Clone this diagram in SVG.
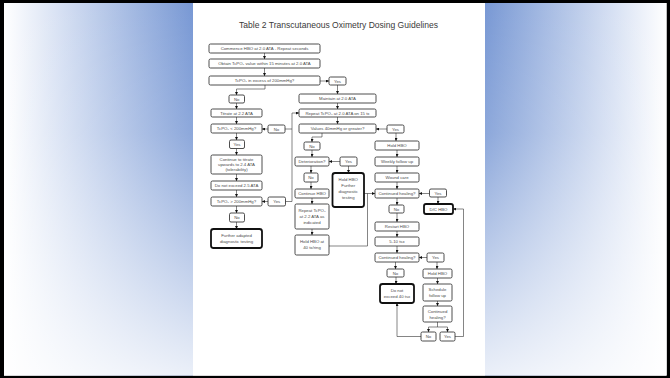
<svg xmlns="http://www.w3.org/2000/svg" width="670" height="378" viewBox="0 0 670 378">
<defs>
<linearGradient id="gl" x1="0" y1="0" x2="1" y2="0"><stop offset="0" stop-color="#ffffff"/><stop offset="0.3" stop-color="#d6e0f3"/><stop offset="1" stop-color="#7898d4"/></linearGradient>
<linearGradient id="gr" x1="0" y1="0" x2="1" y2="0"><stop offset="0" stop-color="#7898d4"/><stop offset="0.7" stop-color="#d6e0f3"/><stop offset="1" stop-color="#ffffff"/></linearGradient>
<linearGradient id="gv" x1="0" y1="0" x2="0" y2="1"><stop offset="0" stop-color="#fff" stop-opacity="0"/><stop offset="0.35" stop-color="#fff" stop-opacity="0.15"/><stop offset="1" stop-color="#fff" stop-opacity="0.85"/></linearGradient>
<marker id="ah" viewBox="0 0 6 6" refX="6" refY="3" markerWidth="3" markerHeight="3" orient="auto" markerUnits="userSpaceOnUse"><path d="M0,0 L6,3 L0,6 z" fill="#111"/></marker>
<style>
.box{fill:#fff;stroke:#222;stroke-width:0.8}
.bold{fill:#fff;stroke:#111;stroke-width:1.8}
.t{font-family:"Liberation Sans",Arial,sans-serif;font-size:4.3px;fill:#4a4a4a;text-anchor:middle}
.title{font-family:"Liberation Sans",Arial,sans-serif;font-size:9px;fill:#3a3a3a;text-anchor:middle}
.c{fill:none;stroke:#333;stroke-width:0.6}
.a{marker-end:url(#ah)}
</style>
</defs>
<rect width="670" height="378" fill="#000"/>
<rect x="4" y="3" width="662.5" height="372.5" fill="#fff"/>
<rect x="4" y="3" width="189" height="372.5" fill="url(#gl)"/>
<rect x="485" y="3" width="181.5" height="372.5" fill="url(#gr)"/>
<rect x="4" y="3" width="662.5" height="372.5" fill="url(#gv)"/>
<rect x="193" y="3" width="292" height="372.5" fill="#fff"/>
<text class="title" x="338.5" y="28" textLength="199" lengthAdjust="spacingAndGlyphs">Table 2 Transcutaneous Oximetry Dosing Guidelines</text>

<g id="connectors">
<path class="c a" d="M264.5 53V59"/>
<path class="c a" d="M264.5 68V76"/>
<path class="c a" d="M320 81H329"/>
<path class="c a" d="M337.5 85V94"/>
<path class="c a" d="M265 85V89H236.5V95"/>
<path class="c a" d="M236.5 103V109"/>
<path class="c a" d="M337.5 103V109"/>
<path class="c a" d="M236.5 117V124"/>
<path class="c a" d="M337.5 117V124"/>
<path class="c a" d="M268 129H262"/>
<path class="c" d="M285 129H292"/>
<path class="c" d="M292 201.5V113"/>
<path class="c a" d="M292 113H299"/>
<path class="c a" d="M387 129H376"/>
<path class="c a" d="M322 133V137H312V142"/>
<path class="c a" d="M396 133V141"/>
<path class="c a" d="M236.5 133V140"/>
<path class="c a" d="M236.5 148.5V155"/>
<path class="c a" d="M312 150V157"/>
<path class="c a" d="M340 161.5H329"/>
<path class="c a" d="M348.5 166V173"/>
<path class="c a" d="M397 150V157"/>
<path class="c a" d="M311 166V173"/>
<path class="c a" d="M397 166V173"/>
<path class="c a" d="M236.5 174V181"/>
<path class="c a" d="M311 182V189"/>
<path class="c a" d="M397 182V189"/>
<path class="c a" d="M364 193.5H375"/>
<path class="c" d="M329 246H367.5V193.5"/>
<path class="c a" d="M429.5 193.5H419"/>
<path class="c a" d="M236.5 190V197"/>
<path class="c a" d="M268 201.5H262"/>
<path class="c" d="M285.5 201.5H292"/>
<path class="c a" d="M312 198V204"/>
<path class="c a" d="M438 197V204"/>
<path class="c a" d="M397 198V205"/>
<path class="c a" d="M236.5 206V213"/>
<path class="c a" d="M397 213V222"/>
<path class="c a" d="M236.5 222V229"/>
<path class="c a" d="M312 229V235"/>
<path class="c a" d="M397 231V237"/>
<path class="c a" d="M397 246V253"/>
<path class="c a" d="M427 257.5H419"/>
<path class="c a" d="M395.5 262V269"/>
<path class="c a" d="M437 262V269"/>
<path class="c a" d="M396 277V284"/>
<path class="c a" d="M437.5 278V284"/>
<path class="c a" d="M437.5 301V306"/>
<path class="c" d="M437.5 322V327H428.5"/>
<path class="c a" d="M428.5 327V332"/>
<path class="c a" d="M437.5 327H447.5V332"/>
<path class="c a" d="M421 336.5H397V303"/>
<path class="c a" d="M455 336.5H463.5V209H453"/>
</g>

<g id="n1"><rect class="box" x="209" y="44" width="111" height="9" rx="1.5"/><text class="t" x="264.5" y="50">Commence HBO at 2.0 ATA - Repeat seconds</text></g>
<g id="n2"><rect class="box" x="209" y="59" width="111" height="9" rx="1.5"/><text class="t" x="264.5" y="65">Obtain TcPO₂ value within 15 minutes at 2.0 ATA</text></g>
<g id="n3"><rect class="box" x="209" y="76" width="111" height="9" rx="1.5"/><text class="t" x="264.5" y="82">TcPO₂ in excess of 200mmHg?</text></g>
<g id="n3y"><rect class="box" x="329" y="77" width="17" height="8" rx="1.5"/><text class="t" x="337.5" y="82.5">Yes</text></g>
<g id="n4"><rect class="box" x="229" y="95" width="15.5" height="8" rx="1.5"/><text class="t" x="236.75" y="100.5">No</text></g>
<g id="n5"><rect class="box" x="299" y="94" width="77" height="9" rx="1.5"/><text class="t" x="337.5" y="100">Maintain at 2.0 ATA</text></g>
<g id="n6"><rect class="box" x="211" y="109" width="51" height="8" rx="1.5"/><text class="t" x="236.5" y="114.5">Titrate at 2.2 ATA</text></g>
<g id="n7"><rect class="box" x="299" y="109" width="77" height="8" rx="1.5"/><text class="t" x="337.5" y="114.5">Repeat TcPO₂ at 2.0 ATA on 15 tx</text></g>
<g id="n8"><rect class="box" x="211" y="124" width="51" height="9" rx="1.5"/><text class="t" x="236.5" y="130">TcPO₂ &lt; 200mmHg?</text></g>
<g id="n8r"><rect class="box" x="268" y="125" width="17" height="8" rx="1.5"/><text class="t" x="276.5" y="130.5">No</text></g>
<g id="n9"><rect class="box" x="299" y="124" width="77" height="9" rx="1.5"/><text class="t" x="337.5" y="130">Values 40mmHg or greater?</text></g>
<g id="n9y"><rect class="box" x="387" y="125" width="17" height="8" rx="1.5"/><text class="t" x="395.5" y="130.5">Yes</text></g>
<g id="n10"><rect class="box" x="229.5" y="140" width="15" height="8.5" rx="1.5"/><text class="t" x="237" y="145.8">Yes</text></g>
<g id="n11"><rect class="box" x="304" y="142" width="16" height="8" rx="1.5"/><text class="t" x="312" y="147.5">No</text></g>
<g id="n12"><rect class="box" x="375" y="141" width="44" height="9" rx="1.5"/><text class="t" x="397" y="147">Hold HBO</text></g>
<g id="n13"><rect class="box" x="211" y="155" width="51" height="19" rx="1.5"/><text class="t" x="236.5" y="161">Continue to titrate</text><text class="t" x="236.5" y="166">upwards to 2.4 ATA</text><text class="t" x="236.5" y="171">(tolerability)</text></g>
<g id="n14"><rect class="box" x="295" y="157" width="34" height="9" rx="1.5"/><text class="t" x="312" y="163">Deterioration?</text></g>
<g id="n14y"><rect class="box" x="340" y="157" width="17" height="9" rx="1.5"/><text class="t" x="348.5" y="163">Yes</text></g>
<g id="n15"><rect class="box" x="375" y="157" width="44" height="9" rx="1.5"/><text class="t" x="397" y="163">Weekly follow up</text></g>
<g id="n16"><rect class="box" x="304" y="173" width="14" height="9" rx="1.5"/><text class="t" x="311" y="179">No</text></g>
<g id="n17"><rect class="bold" x="332.5" y="173" width="31.5" height="34" rx="2.5"/><text class="t" x="348.25" y="181">Hold HBO</text><text class="t" x="348.25" y="187">Further</text><text class="t" x="348.25" y="193">diagnostic</text><text class="t" x="348.25" y="199">testing</text></g>
<g id="n18"><rect class="box" x="375" y="173" width="44" height="9" rx="1.5"/><text class="t" x="397" y="179">Wound care</text></g>
<g id="n19"><rect class="box" x="211" y="181" width="51" height="9" rx="1.5"/><text class="t" x="236.5" y="187">Do not exceed 2.5 ATA</text></g>
<g id="n20"><rect class="box" x="295" y="189" width="34" height="9" rx="1.5"/><text class="t" x="312" y="195">Continue HBO</text></g>
<g id="n21"><rect class="box" x="375" y="189" width="44" height="9" rx="1.5"/><text class="t" x="397" y="195">Continued healing?</text></g>
<g id="n21y"><rect class="box" x="429.5" y="189" width="17" height="8" rx="1.5"/><text class="t" x="438" y="194.5">Yes</text></g>
<g id="n22"><rect class="box" x="211" y="197" width="51" height="9" rx="1.5"/><text class="t" x="236.5" y="203">TcPO₂ &gt; 200mmHg?</text></g>
<g id="n22r"><rect class="box" x="268" y="197" width="17.5" height="9" rx="1.5"/><text class="t" x="276.75" y="203">Yes</text></g>
<g id="n23"><rect class="box" x="295" y="204" width="34" height="25" rx="1.5"/><text class="t" x="312" y="211.5">Repeat TcPO₂</text><text class="t" x="312" y="217.5">at 2.2 ATA as</text><text class="t" x="312" y="223.5">indicated</text></g>
<g id="n24"><rect class="bold" x="424" y="204" width="29" height="10" rx="2"/><text class="t" x="438.5" y="210.5">D/C HBO</text></g>
<g id="n25"><rect class="box" x="389" y="205" width="15" height="8" rx="1.5"/><text class="t" x="396.5" y="210.5">No</text></g>
<g id="n26"><rect class="box" x="229.5" y="213" width="15" height="9" rx="1.5"/><text class="t" x="237" y="219">No</text></g>
<g id="n27"><rect class="box" x="375" y="222" width="44" height="9" rx="1.5"/><text class="t" x="397" y="228">Restart HBO</text></g>
<g id="n28"><rect class="bold" x="211" y="229" width="51" height="19" rx="2.5"/><text class="t" x="236.5" y="237">Further adapted</text><text class="t" x="236.5" y="243">diagnostic testing</text></g>
<g id="n29"><rect class="box" x="295" y="235" width="34" height="20" rx="1.5"/><text class="t" x="312" y="243">Hold HBO at</text><text class="t" x="312" y="249">40 tx/ring</text></g>
<g id="n30"><rect class="box" x="375" y="237" width="44" height="9" rx="1.5"/><text class="t" x="397" y="243">5-10 tsx</text></g>
<g id="n31"><rect class="box" x="375" y="253" width="44" height="9" rx="1.5"/><text class="t" x="397" y="259">Continued healing?</text></g>
<g id="n31y"><rect class="box" x="427" y="253" width="17" height="9" rx="1.5"/><text class="t" x="435.5" y="259">Yes</text></g>
<g id="n32"><rect class="box" x="387" y="269" width="17" height="8" rx="1.5"/><text class="t" x="395.5" y="274.5">No</text></g>
<g id="n33"><rect class="box" x="423" y="269" width="29" height="9" rx="1.5"/><text class="t" x="437.5" y="275">Hold HBO</text></g>
<g id="n34"><rect class="bold" x="380" y="284" width="34" height="19" rx="2.5"/><text class="t" x="397" y="292">Do not</text><text class="t" x="397" y="298">exceed 40 tsx</text></g>
<g id="n35"><rect class="box" x="423" y="284" width="29" height="17" rx="1.5"/><text class="t" x="437.5" y="291">Schedule</text><text class="t" x="437.5" y="297">follow up</text></g>
<g id="n36"><rect class="box" x="423" y="306" width="29" height="16" rx="1.5"/><text class="t" x="437.5" y="313">Continued</text><text class="t" x="437.5" y="319">healing?</text></g>
<g id="n37"><rect class="box" x="421" y="332" width="15" height="9" rx="1.5"/><text class="t" x="428.5" y="338">No</text></g>
<g id="n38"><rect class="box" x="440" y="332" width="15" height="9" rx="1.5"/><text class="t" x="447.5" y="338">Yes</text></g>
</svg>
